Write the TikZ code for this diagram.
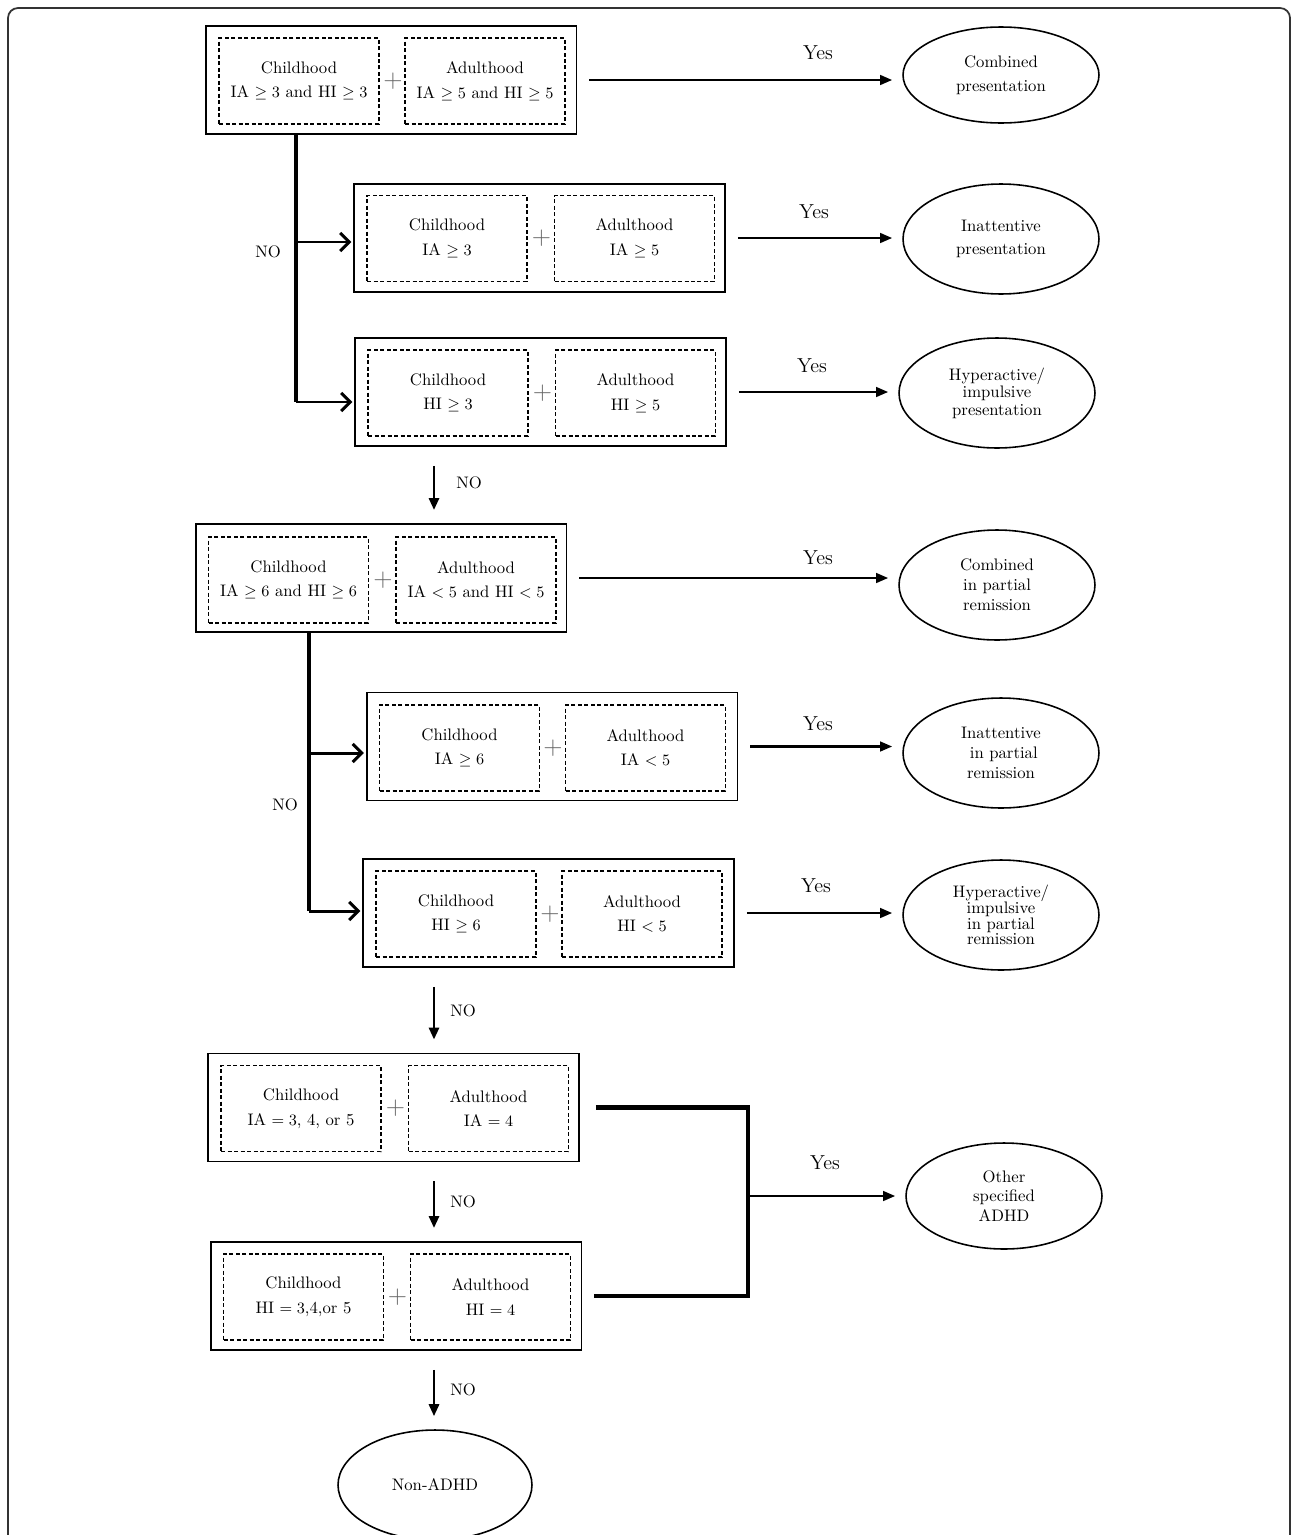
\documentclass[tikz,border=0pt]{standalone}
\usepackage{amsmath, amssymb}
\usepackage{tikz}
\usetikzlibrary{arrows.meta, shapes.geometric}

\begin{document}
\begin{tikzpicture}[x=0.02cm, y=-0.02cm,
	outerbox/.style={draw, line width=1.1pt, minimum width=7.42cm, minimum height=2.16cm},
	critbox/.style={draw, line width=0.8pt, dash pattern=on 0.08cm off 0.05cm, minimum width=3.2cm, minimum height=1.72cm, inner sep=0pt, align=center, font=\fontsize{9.5}{14}\selectfont},
	plus/.style={text=black!60, font=\Large},
	outcome/.style={draw, ellipse, line width=0.9pt, minimum width=3.92cm, minimum height=2.2cm, inner sep=0pt, align=center},
	yes/.style={font=\fontsize{11.5}{12}\selectfont},
	no/.style={font=\fontsize{9.5}{10}\selectfont},
	yesarrow/.style={line width=1.4pt, -{Triangle[length=0.24cm,width=0.19cm]}, shorten <=0.24cm, shorten >=0.2cm},
	downarrow/.style={line width=1.6pt, -{Triangle[length=0.24cm,width=0.2cm]}, shorten <=0.38cm, shorten >=0.26cm},
	trunk/.style={line width=2.2pt},
	branch/.style={line width=1.7pt, -{Straight Barb[length=0.18cm,width=0.36cm]}, shorten >=1pt}]

	% frame
	\useasboundingbox (0,0) rectangle (1292,1535);
	\clip (0,0) rectangle (1292,1535);
	\draw[line width=1pt, black!80, rounded corners=0.2cm] (8,8) rectangle (1290,1580);

	% criteria boxes
	\node(B1) [outerbox] at (391,80) {};
	\node(C1) [critbox] at (299,81) {Childhood\\IA $\geq 3$ and HI $\geq 3$};
	\node(A1) [critbox] at (485,81) {Adulthood\\IA $\geq 5$ and HI $\geq 5$};
	\node(P1) [plus] at (393,81) {$+$};

	\node(B2) [outerbox] at (539.5,238) {};
	\node(C2) [critbox] at (447,238.5) {Childhood\\IA $\geq 3$};
	\node(A2) [critbox] at (634.5,238.5) {Adulthood\\IA $\geq 5$};
	\node(P2) [plus] at (541.5,238.5) {$+$};

	\node(B3) [outerbox] at (540.5,392) {};
	\node(C3) [critbox] at (448,393) {Childhood\\HI $\geq 3$};
	\node(A3) [critbox] at (635.5,393) {Adulthood\\HI $\geq 5$};
	\node(P3) [plus] at (542.5,393) {$+$};

	\node(B4) [outerbox] at (381,578) {};
	\node(C4) [critbox] at (288.5,580) {Childhood\\IA $\geq 6$ and HI $\geq 6$};
	\node(A4) [critbox] at (476,580) {Adulthood\\IA $<5$ and HI $<5$};
	\node(P4) [plus] at (383,580) {$+$};

	\node(B5) [outerbox] at (552,746.5) {};
	\node(C5) [critbox] at (459.5,748) {Childhood\\IA $\geq 6$};
	\node(A5) [critbox] at (645.5,748) {Adulthood\\IA $<5$};
	\node(P5) [plus] at (553,748) {$+$};

	\node(B6) [outerbox] at (548.5,913) {};
	\node(C6) [critbox] at (456,914) {Childhood\\HI $\geq 6$};
	\node(A6) [critbox] at (642,914) {Adulthood\\HI $<5$};
	\node(P6) [plus] at (550,914) {$+$};

	\node(B7) [outerbox] at (393.5,1107.5) {};
	\node(C7) [critbox] at (301,1108.5) {Childhood\\IA $=3$, 4, or 5};
	\node(A7) [critbox] at (488.5,1108.5) {Adulthood\\IA $=4$};
	\node(P7) [plus] at (395.5,1108.5) {$+$};

	\node(B8) [outerbox] at (396,1296) {};
	\node(C8) [critbox] at (303.5,1297) {Childhood\\HI $=3$,4,or 5};
	\node(A8) [critbox] at (490.5,1297) {Adulthood\\HI $=4$};
	\node(P8) [plus] at (397.5,1297) {$+$};

	% outcomes
	\node(E1) [outcome, minimum height=1.92cm, font=\fontsize{9.5}{13.5}\selectfont] at (1001,75) {Combined\\presentation};
	\node(E2) [outcome, font=\fontsize{9.5}{13.5}\selectfont] at (1001,239) {Inattentive\\presentation};
	\node(E3) [outcome, font=\fontsize{9.5}{10}\selectfont] at (997,393) {Hyperactive/\\impulsive\\presentation};
	\node(E4) [outcome, font=\fontsize{9.5}{11.3}\selectfont] at (997,585) {Combined\\in partial\\remission};
	\node(E5) [outcome, font=\fontsize{9.5}{11.3}\selectfont] at (1001,753) {Inattentive\\\ in partial\\remission};
	\node(E6) [outcome, font=\fontsize{9.5}{9}\selectfont] at (1001,915) {Hyperactive/\\impulsive\\in partial\\remission};
	\node(E7) [outcome, minimum height=2.12cm, font=\fontsize{9.5}{11.3}\selectfont] at (1004,1196) {Other\\specified\\ADHD};
	\node(N) [outcome, minimum width=3.88cm, font=\fontsize{9.5}{11}\selectfont] at (435,1485) {Non-ADHD};

	% yes arrows
	\draw[yesarrow] (B1.east) -- (B1.east -| E1.west);
	\draw[yesarrow] (B2.east) -- (B2.east -| E2.west);
	\draw[yesarrow] (B3.east) -- (B3.east -| E3.west);
	\draw[yesarrow] (B4.east) -- (B4.east -| E4.west);
	\draw[yesarrow] (B5.east) -- (B5.east -| E5.west);
	\draw[yesarrow] (B6.east) -- (B6.east -| E6.west);
	\node(Y1) [yes] at (818,53) {Yes};
	\node(Y2) [yes] at (814,212) {Yes};
	\node(Y3) [yes] at (812,366) {Yes};
	\node(Y4) [yes] at (818,558) {Yes};
	\node(Y5) [yes] at (818,724) {Yes};
	\node(Y6) [yes] at (816,886) {Yes};
	\node(Y7) [yes] at (825,1163) {Yes};

	% NO branches
	\coordinate(T1) at (296,402);
	\draw[trunk] (B1.south -| T1) -- (T1);
	\draw[branch] (T1 |- 0,242) -- (B2.west |- 0,242);
	\draw[branch] (T1) -- (B3.west |- T1);
	\node(NO1) [no] at (268,252) {NO};

	\coordinate(T2) at (309,911);
	\draw[trunk] (B4.south -| T2) -- (T2);
	\draw[branch] (T2 |- 0,753) -- (B5.west |- 0,753);
	\draw[branch] (T2) -- (B6.west |- T2);
	\node(NO2) [no] at (285,805) {NO};

	\coordinate(D) at (434,0);
	\draw[downarrow] (B3.south -| D) -- (B4.north -| D);
	\draw[downarrow] (B6.south -| D) -- (B7.north -| D);
	\draw[downarrow] (B7.south -| D) -- (B8.north -| D);
	\draw[downarrow] (B8.south -| D) -- (N.north -| D);
	\node(NO3) [no] at (469,483) {NO};
	\node(NO4) [no] at (463,1011) {NO};
	\node(NO5) [no] at (463,1202) {NO};
	\node(NO6) [no] at (463,1390) {NO};

	% other specified
	\coordinate(K) at (748,1196);
	\draw[trunk, line width=2.4pt] ([xshift=0.32cm]B7.east) -| (K) |- ([xshift=0.24cm]B8.east);
	\draw[yesarrow, shorten <=0pt] (K) -- (K -| E7.west);

\end{tikzpicture}
\end{document}
